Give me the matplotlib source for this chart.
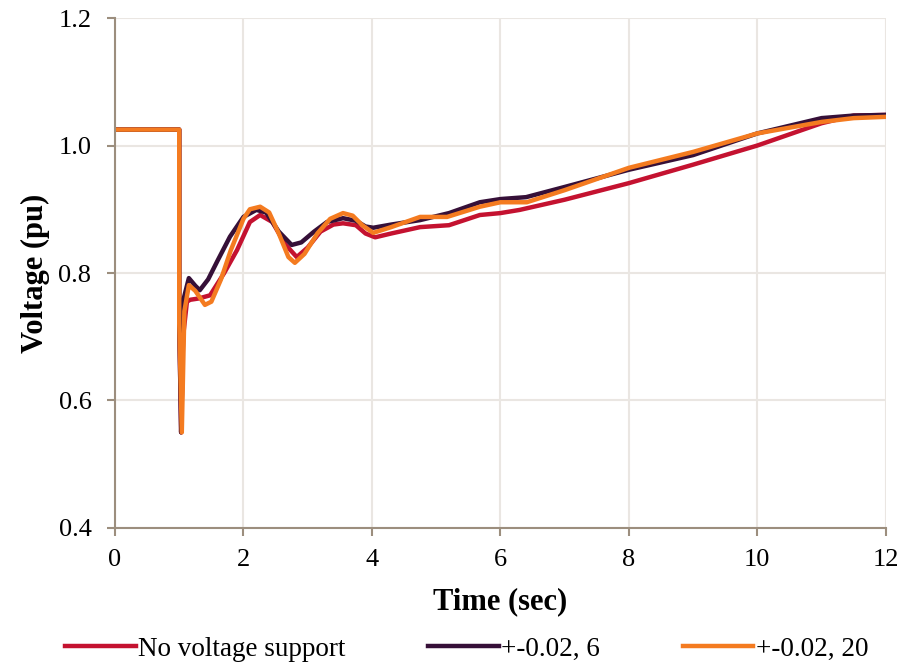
import matplotlib
matplotlib.use("Agg")
import matplotlib.pyplot as plt
import numpy as np

plt.rcParams['font.family'] = ['Liberation Serif', 'DejaVu Serif']

# series: time (sec), voltage (pu)
t_none = [0, 1.0, 1.0, 1.03, 1.06, 1.12, 1.17, 1.3, 1.48, 1.7, 1.9, 2.1, 2.26, 2.45, 2.65, 2.83,
          3.0, 3.2, 3.4, 3.55, 3.75, 3.9, 4.05, 4.3, 4.75, 5.2, 5.68, 6.0, 6.3, 7.0, 8.0, 9.0,
          10.0, 11.0, 11.5, 12.0]
v_none = [1.025, 1.025, 0.725, 0.55, 0.70, 0.755, 0.758, 0.760, 0.765, 0.800, 0.836, 0.880, 0.891,
          0.880, 0.845, 0.825, 0.840, 0.865, 0.876, 0.878, 0.875, 0.862, 0.856, 0.862, 0.872, 0.875,
          0.891, 0.894, 0.899, 0.915, 0.941, 0.970, 1.000, 1.035, 1.047, 1.048]

t_6 = [0, 1.0, 1.0, 1.03, 1.07, 1.15, 1.25, 1.32, 1.45, 1.6, 1.79, 2.0, 2.2, 2.35, 2.55, 2.75,
       2.9, 3.1, 3.3, 3.55, 3.75, 3.9, 4.02, 4.3, 4.75, 5.2, 5.68, 6.0, 6.4, 7.0, 8.0, 9.0,
       10.0, 11.0, 11.5, 12.0]
v_6 = [1.025, 1.025, 0.725, 0.55, 0.76, 0.792, 0.780, 0.773, 0.790, 0.820, 0.857, 0.888, 0.899,
       0.895, 0.865, 0.844, 0.848, 0.865, 0.880, 0.886, 0.882, 0.873, 0.871, 0.876, 0.883, 0.894,
       0.911, 0.916, 0.919, 0.935, 0.962, 0.985, 1.019, 1.043, 1.047, 1.048]

t_20 = [0, 1.0, 1.0, 1.04, 1.08, 1.15, 1.25, 1.4, 1.5, 1.65, 1.8, 2.0, 2.1, 2.26, 2.4, 2.55, 2.7,
        2.8, 2.95, 3.15, 3.35, 3.55, 3.7, 3.85, 4.02, 4.3, 4.75, 5.17, 5.68, 6.0, 6.41, 7.0, 8.0,
        9.0, 10.0, 11.0, 11.5, 12.0]
v_20 = [1.025, 1.025, 0.72, 0.55, 0.74, 0.781, 0.772, 0.750, 0.755, 0.790, 0.835, 0.885, 0.900,
        0.904, 0.895, 0.862, 0.825, 0.816, 0.830, 0.862, 0.885, 0.894, 0.890, 0.875, 0.863, 0.872,
        0.888, 0.888, 0.904, 0.911, 0.911, 0.930, 0.965, 0.990, 1.019, 1.037, 1.043, 1.045]

labels = ["No voltage support", "+-0.02, 6", "+-0.02, 20"]
colors = ["#C41230", "#361038", "#F47B20"]

xticks = np.arange(0, 13, 2)
yticks = [0.4, 0.6, 0.8, 1.0, 1.2]

fig = plt.figure(figsize=(9.09, 6.68), dpi=100)
ax = fig.add_axes([0.1265, 0.2096, 0.848, 0.7634])

series = [(t_none, v_none), (t_6, v_6), (t_20, v_20)]
for (t, v), lab, c in zip(series, labels, colors):
    ax.plot(t, v, color=c, lw=3.2, label=lab, solid_joinstyle='round')

ax.set_xlim(0, 12)
ax.set_ylim(0.4, 1.2)
ax.set_xticks(xticks)
ax.set_yticks(yticks)
ax.set_yticklabels(["%.1f" % y for y in yticks])
ax.grid(True, color="#EAE6E2", lw=1.5)
ax.set_axisbelow(True)

axcol = "#9C8E7E"
for s in ["top", "right"]:
    ax.spines[s].set_visible(False)
for s in ["left", "bottom"]:
    ax.spines[s].set_color(axcol)
    ax.spines[s].set_linewidth(1.5)
ax.tick_params(axis='both', colors=axcol, labelcolor='black', labelsize=19,
               length=6, width=1.5, direction='out')
ax.tick_params(axis='x', pad=9)
ax.tick_params(axis='y', pad=11)

ax.set_xlabel("Time (sec)", fontsize=22, fontweight='bold', labelpad=12)
ax.set_ylabel("Voltage (pu)", fontsize=22, fontweight='bold', labelpad=6)

fig.legend(loc='lower center', bbox_to_anchor=(0.5135, -0.027), ncol=3, frameon=False,
           fontsize=19.5, handlelength=2.6, handletextpad=0.1, columnspacing=3.05)

fig.savefig("out.png", dpi=100)
